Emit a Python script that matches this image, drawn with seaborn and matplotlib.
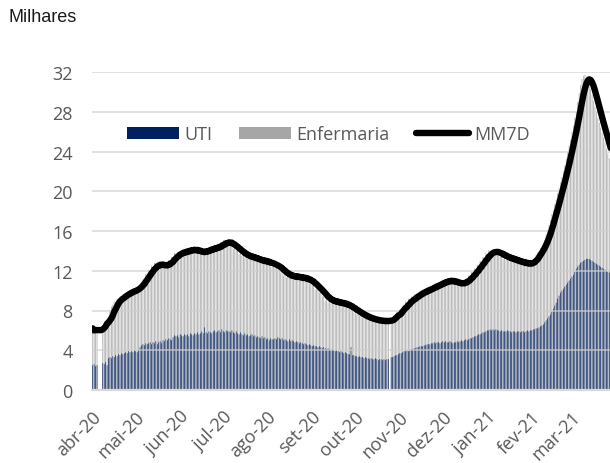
import numpy as np
import pandas as pd
import matplotlib
matplotlib.use("Agg")
import matplotlib.pyplot as plt
import seaborn as sns
from matplotlib.patches import Patch
from matplotlib.lines import Line2D

nan = float("nan")
start_date = "2020-03-28"

# Ocupação total (UTI + Enfermaria), milhares, diário
total_mar20 = [6.2, 5.8, 6.1, 6.0]
total_abr20 = [nan, nan, nan, 6.5, 6.3, 6.8, 7.1, 7.3, 8.0, 8.4, 8.6, 8.9, 8.8, 9.2, 9.1,
               9.4, 9.3, 9.6, 9.5, 9.8, 9.7, 10.0, 9.8, 10.1, 9.9, 10.2, 10.0, 10.3, 10.5, 10.6]
total_mai20 = [10.9, 11.1, 11.2, 11.7, 11.6, 12.1, 12.0, 12.5, 12.3, 12.8, 12.5, 12.9, 12.4, 12.8,
               12.3, 12.7, 12.3, 12.6, 12.6, 13.1, 12.9, 13.4, 13.3, 13.8, 13.5, 13.9, 13.6, 14.0,
               13.7, 14.1, 13.8]
total_jun20 = [14.2, 13.8, 14.3, 13.9, 14.4, 14.0, 14.2, 13.8, 14.1, 13.7, 14.0, 13.6, 14.1, 13.8,
               14.3, 13.9, 14.4, 14.0, 14.5, 14.0, 14.6, 14.1, 14.7, 14.3, 14.9, 14.5, 15.1, 14.8,
               15.1, 14.7]
total_jul20 = [14.9, 14.5, 14.7, 14.2, 14.5, 14.0, 14.2, 13.7, 14.0, 13.5, 13.7, 13.3, 13.7, 13.2,
               13.6, 13.2, 13.5, 13.0, 13.4, 12.9, 13.3, 12.8, 13.2, 12.8, 13.1, 12.7, 13.1, 12.6,
               12.9, 12.4, 12.8]
total_ago20 = [12.7, 12.3, 12.6, 12.1, 12.3, 11.8, 12.1, 11.5, 11.8, 11.3, 11.7, 11.3, 11.6, 11.2,
               11.6, 11.2, 11.6, 11.1, 11.5, 11.1, 11.4, 11.0, 11.4, 11.0, 11.2, 10.7, 11.0, 10.5,
               10.7, 10.1, 10.4]
total_set20 = [10.2, 9.8, 9.9, 9.4, 9.6, 9.0, 9.3, 8.8, 9.2, 8.7, 9.1, 8.7, 9.0, 8.6, 9.0, 8.5,
               8.9, 8.5, 8.8, 8.4, 8.7, 8.2, 8.5, 8.0, 8.3, 7.8, 8.1, 7.6, 7.9, 7.5]
total_out20 = [7.7, 7.3, 7.5, 7.2, 7.4, 7.1, 7.3, 7.0, 7.2, 6.9, 7.1, 6.9, 7.1, 6.8, 7.1, 6.8,
               7.0, 6.8, 7.1, 6.9, nan, 7.2, 7.0, 7.4, 7.6, 7.9, 7.8, 8.1, 8.0, 8.4, 8.6]
total_nov20 = [8.9, 8.6, 9.2, 8.9, 9.4, 9.1, 9.6, 9.3, 9.8, 9.5, 10.0, 9.7, 10.1, 9.8, 10.2, 9.9,
               10.4, 10.1, 10.5, 10.2, 10.7, 10.3, 10.8, 10.5, 10.9, 10.6, 11.1, 10.8, 11.2, 10.8]
total_dez20 = [11.2, 10.8, 11.1, 10.7, 11.0, 10.6, 10.9, 10.5, 10.8, 10.6, 10.9, 10.8, 11.2, 11.0,
               11.5, 11.3, 11.9, 11.7, 12.2, 12.0, 12.6, 12.4, 13.0, 12.8, 13.4, 13.2, 13.8, 13.5,
               14.1, 13.8, 14.0]
total_jan21 = [14.1, 13.7, 14.0, 13.6, 13.9, 13.4, 13.7, 13.2, 13.6, 13.1, 13.5, 13.0, 13.4, 12.9,
               13.3, 12.8, 13.2, 12.7, 13.1, 12.6, 13.0, 12.6, 12.9, 12.5, 12.9, 12.5, 12.9, 12.7,
               13.1, 13.3, 13.6]
total_fev21 = [13.8, 14.0, 14.3, 14.4, 14.8, 15.1, 15.7, 16.1, 16.6, 17.1, 17.7, 18.1, 18.7, 19.2,
               19.8, 20.3, 20.9, 21.4, 22.0, 22.6, 23.3, 23.9, 24.6, 25.2, 26.0, 26.6, 27.4, 28.0]
total_mar21 = [29.0, 29.9, 30.7, 31.3, 31.6, 31.7, 31.5, 31.2, 30.8, 30.3, 29.7, 29.1, 28.5, 27.9,
               27.4, 26.9, 26.4, 25.9, 25.4, 24.9, 24.3, 23.8, 23.3, 22.8]

# UTI, milhares, diário
uti_mar20 = [2.5, 2.6, 2.4, 2.5]
uti_abr20 = [nan, nan, nan, 2.7, 2.6, 2.8, 2.5, 3.2, 3.3, 3.2, 3.4, 3.3, 3.5, 3.4, 3.6, 3.5,
             3.7, 3.6, 3.7, 3.8, 3.7, 3.9, 3.8, 3.9, 3.8, 4.0, 3.9, 3.8, 4.0, 4.3]
uti_mai20 = [4.5, 4.6, 4.5, 4.7, 4.6, 4.7, 4.8, 4.6, 4.8, 4.7, 4.9, 4.6, 4.8, 4.9, 4.7, 5.0,
             4.9, 5.1, 5.0, 5.2, 5.1, 5.0, 5.3, 5.5, 5.4, 5.5, 5.3, 5.6, 5.5, 5.4, 5.6]
uti_jun20 = [5.5, 5.6, 5.4, 5.7, 5.6, 5.5, 5.7, 5.6, 5.8, 5.6, 5.7, 5.9, 5.7, 6.3, 5.8, 5.7,
             5.9, 5.8, 5.7, 5.9, 6.0, 5.8, 5.9, 6.0, 5.8, 6.1, 5.9, 5.8, 6.0, 5.9]
uti_jul20 = [5.9, 5.8, 6.0, 5.8, 5.7, 5.9, 5.7, 5.6, 5.8, 5.6, 5.5, 5.7, 5.5, 5.6, 5.4, 5.5,
             5.6, 5.4, 5.5, 5.3, 5.4, 5.3, 5.2, 5.4, 5.2, 5.3, 5.1, 5.2, 5.0, 5.2, 5.1]
uti_ago20 = [5.1, 5.2, 5.1, 5.3, 5.2, 5.1, 5.2, 5.0, 5.1, 5.0, 4.9, 5.1, 4.9, 5.0, 4.9, 4.8,
             4.9, 4.8, 4.7, 4.8, 4.7, 4.6, 4.7, 4.6, 4.5, 4.6, 4.5, 4.4, 4.5, 4.4, 4.4]
uti_set20 = [4.3, 4.4, 4.3, 4.2, 4.3, 4.2, 4.1, 4.2, 4.1, 4.0, 4.1, 4.0, 3.9, 4.0, 3.9, 3.8,
             3.9, 3.8, 3.7, 3.8, 3.7, 3.6, 3.6, 4.3, 3.5, 3.5, 3.4, 3.4, 3.3, 3.4]
uti_out20 = [3.3, 3.3, 3.2, 3.3, 3.2, 3.2, 3.1, 3.2, 3.1, 3.1, 3.2, 3.1, 3.0, 3.1, 3.1, 3.0,
             3.1, 3.0, 3.1, 3.1, nan, 3.3, 3.3, 3.4, 3.5, 3.5, 3.6, 3.7, 3.7, 3.8, 3.9]
uti_nov20 = [3.9, 4.0, 3.9, 4.0, 4.1, 4.1, 4.2, 4.2, 4.3, 4.3, 4.4, 4.4, 4.4, 4.5, 4.5, 4.6,
             4.6, 4.6, 4.7, 4.7, 4.8, 4.7, 4.8, 4.8, 4.7, 4.8, 4.9, 4.8, 4.9, 4.8]
uti_dez20 = [4.8, 4.9, 4.8, 4.7, 4.8, 4.8, 4.9, 4.8, 4.9, 5.0, 4.9, 5.0, 5.1, 5.0, 5.1, 5.2,
             5.2, 5.3, 5.4, 5.4, 5.5, 5.6, 5.6, 5.7, 5.8, 5.8, 5.9, 6.0, 6.0, 6.1, 6.0]
uti_jan21 = [6.1, 6.0, 6.1, 6.0, 6.0, 5.9, 6.0, 5.9, 5.9, 5.9, 6.0, 5.9, 5.9, 5.8, 5.9, 5.9,
             5.8, 5.9, 5.9, 5.8, 5.9, 5.9, 5.8, 5.9, 6.0, 5.9, 6.0, 6.0, 6.1, 6.1, 6.2]
uti_fev21 = [6.2, 6.3, 6.4, 6.5, 6.6, 6.8, 7.0, 7.2, 7.4, 7.6, 7.9, 8.2, 8.5, 8.8, 9.2, 9.5,
             9.8, 10.0, 10.2, 10.4, 10.6, 10.8, 11.0, 11.2, 11.4, 11.6, 11.9, 12.2]
uti_mar21 = [12.4, 12.6, 12.8, 12.9, 13.0, 13.1, 13.2, 13.2, 13.2, 13.1, 13.0, 12.9, 12.8, 12.7,
             12.6, 12.5, 12.4, 12.3, 12.2, 12.1, 12.0, 11.9, 11.8, 11.7]

month_labels = ["abr-20", "mai-20", "jun-20", "jul-20", "ago-20", "set-20", "out-20",
                "nov-20", "dez-20", "jan-21", "fev-21", "mar-21"]
y_ticks = [0, 4, 8, 12, 16, 20, 24, 28, 32]

total = (total_mar20 + total_abr20 + total_mai20 + total_jun20 + total_jul20 + total_ago20 +
         total_set20 + total_out20 + total_nov20 + total_dez20 + total_jan21 + total_fev21 +
         total_mar21)
uti = (uti_mar20 + uti_abr20 + uti_mai20 + uti_jun20 + uti_jul20 + uti_ago20 + uti_set20 +
       uti_out20 + uti_nov20 + uti_dez20 + uti_jan21 + uti_fev21 + uti_mar21)

dates = pd.date_range(start_date, periods=len(total), freq="D")
df = pd.DataFrame({"data": dates, "i": np.arange(len(total)), "total": total, "uti": uti})
df["enfermaria"] = df["total"] - df["uti"]
df["mm7d"] = df["total"].rolling(7, min_periods=1).mean()

plt.rcParams["font.family"] = ["Open Sans", "DejaVu Sans"]

fig = plt.figure(figsize=(6.10, 4.64), dpi=100)
ax = fig.add_axes([92 / 610, 1 - 391 / 464, (610 - 92) / 610, (391 - 73) / 464])

C_UTI = "#002060"
C_ENF = "#a6a6a6"
GRID = "#d9d9d9"
TXT = "#595959"

bars = df.dropna(subset=["total"])
sns.barplot(data=bars, x="i", y="total", native_scale=True, color=C_ENF, saturation=1,
            width=0.52, errorbar=None, linewidth=0, edgecolor="none", snap=False,
            zorder=1, ax=ax)
sns.barplot(data=bars, x="i", y="uti", native_scale=True, color=C_UTI, saturation=1,
            width=0.45, errorbar=None, linewidth=0, edgecolor="none", snap=False,
            zorder=1.1, ax=ax)
sns.lineplot(data=df, x="i", y="mm7d", color="black", linewidth=4.6, ax=ax, zorder=4,
             solid_capstyle="round", solid_joinstyle="round")

ax.set_xlim(-0.5, 360.5)
ax.set_ylim(0, 32)
ax.set_yticks(y_ticks)
ax.set_yticklabels([str(v) for v in y_ticks])
month_pos = df.loc[df["data"].dt.day == 1, "i"].tolist()[:len(month_labels)]
ax.set_xticks(month_pos)
ax.set_xticklabels(month_labels, rotation=45, ha="right", va="center",
                   rotation_mode="anchor")
ax.set_xlabel("")
ax.set_ylabel("")
ax.set_axisbelow(False)
ax.grid(axis="y", color="#cfcfcf", linewidth=1.1, alpha=0.8, zorder=2)
ax.grid(axis="x", visible=False)
for s in ["top", "right", "left"]:
    ax.spines[s].set_visible(False)
ax.spines["bottom"].set_color(GRID)
ax.spines["bottom"].set_linewidth(1.6)
ax.spines["bottom"].set_zorder(3)
ax.tick_params(axis="both", length=0, labelcolor=TXT)
ax.tick_params(axis="y", pad=14, labelsize=13)
ax.tick_params(axis="x", pad=17, labelsize=13)

handles = [Patch(facecolor=C_UTI, edgecolor="none"),
           Patch(facecolor=C_ENF, edgecolor="none"),
           Line2D([0], [0], color="black", linewidth=4.6, solid_capstyle="round")]
leg = fig.legend(handles, ["UTI", "Enfermaria", "MM7D"], ncol=3, frameon=False,
                 loc="center left", bbox_to_anchor=(127 / 610, 1 - 135 / 464),
                 borderpad=0, borderaxespad=0, handlelength=2.9, handleheight=0.67,
                 handletextpad=0.3, columnspacing=1.45, fontsize=13)
for t in leg.get_texts():
    t.set_color(TXT)

fig.text(8 / 610, 1 - 18 / 464, "Milhares", ha="left", va="center", fontsize=13,
         family=["Liberation Sans", "DejaVu Sans"], color="#1a1a1a")

fig.savefig("out.png", dpi=100)
